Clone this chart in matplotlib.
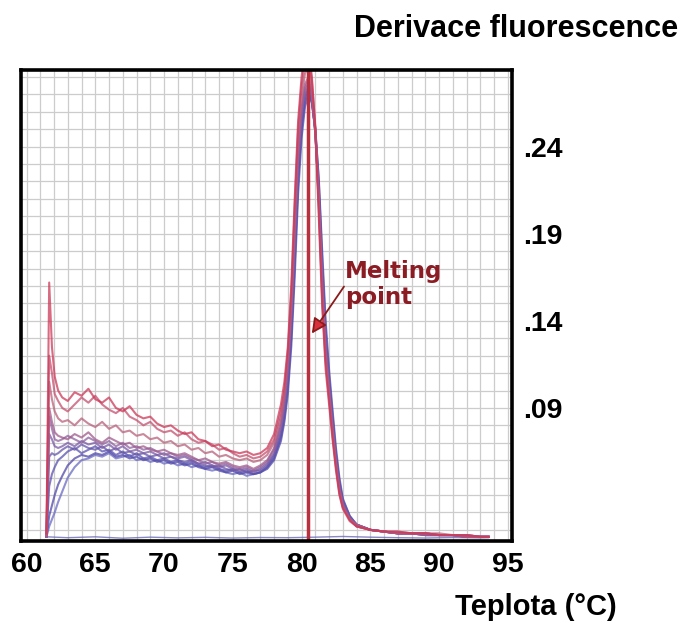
import matplotlib
matplotlib.use('Agg')
import matplotlib.pyplot as plt
from matplotlib.ticker import MultipleLocator

plt.rcParams['font.family'] = ['Liberation Sans', 'DejaVu Sans']

# teplota (°C) - spolecna osa pro vsechny krivky
teplota = [61.45, 61.65, 61.85, 62.05, 62.3, 62.6,
           63.0, 63.5, 64.0, 64.5, 65.0, 65.5, 66.0, 66.5, 67.0, 67.5, 68.0, 68.5, 69.0, 69.5, 70.0, 70.5,
           71.0, 71.5, 72.0, 72.5, 73.0, 73.5, 74.0, 74.5, 75.0, 75.5, 76.0, 76.5, 77.0, 77.5, 78.0,
           78.5, 78.75, 79.0, 79.25, 79.5, 79.75, 80.0, 80.25, 80.5, 80.75, 81.0, 81.25, 81.5, 81.75,
           82.0, 82.25, 82.5, 82.75, 83.0,
           83.5, 84.0, 85.0, 86.0, 87.0, 88.0, 89.0, 90.0, 91.0, 92.0, 93.0, 93.6]

# derivace fluorescence jednotlivych vzorku
vzorek_r0 = [0.018, 0.162, 0.125, 0.108, 0.100, 0.096,
             0.094, 0.099, 0.097, 0.101, 0.095, 0.093, 0.096, 0.090, 0.088, 0.091, 0.086, 0.084, 0.085, 0.081, 0.079, 0.080,
             0.077, 0.075, 0.076, 0.072, 0.071, 0.068, 0.069, 0.066, 0.065, 0.064, 0.065, 0.063, 0.064, 0.067, 0.075,
             0.092, 0.105, 0.125, 0.160, 0.210, 0.255, 0.280, 0.295, 0.298, 0.280, 0.250, 0.200, 0.148, 0.112,
             0.092, 0.072, 0.054, 0.040, 0.032,
             0.025, 0.022, 0.020, 0.019, 0.019, 0.018, 0.018, 0.017, 0.017, 0.017, 0.016, 0.016]
vzorek_r1 = [0.017, 0.120, 0.110, 0.098, 0.094, 0.090,
             0.088, 0.092, 0.096, 0.093, 0.097, 0.092, 0.089, 0.087, 0.090, 0.085, 0.083, 0.080, 0.082, 0.078, 0.076, 0.077,
             0.074, 0.076, 0.072, 0.070, 0.071, 0.069, 0.066, 0.067, 0.064, 0.062, 0.063, 0.061, 0.062, 0.065, 0.072,
             0.088, 0.100, 0.122, 0.155, 0.205, 0.250, 0.275, 0.288, 0.292, 0.278, 0.252, 0.205, 0.152, 0.116,
             0.095, 0.074, 0.056, 0.041, 0.033,
             0.026, 0.022, 0.020, 0.019, 0.018, 0.018, 0.018, 0.017, 0.017, 0.016, 0.016, 0.016]
vzorek_r2 = [0.017, 0.105, 0.095, 0.088, 0.084, 0.082,
             0.083, 0.080, 0.084, 0.081, 0.079, 0.082, 0.078, 0.080, 0.076, 0.077, 0.074, 0.075, 0.072, 0.073, 0.070, 0.071,
             0.068, 0.069, 0.066, 0.067, 0.064, 0.065, 0.062, 0.063, 0.061, 0.060, 0.061, 0.059, 0.060, 0.063, 0.070,
             0.085, 0.098, 0.118, 0.150, 0.198, 0.242, 0.268, 0.282, 0.286, 0.274, 0.250, 0.208, 0.155, 0.118,
             0.097, 0.076, 0.057, 0.042, 0.033,
             0.026, 0.023, 0.020, 0.019, 0.019, 0.018, 0.018, 0.018, 0.017, 0.017, 0.016, 0.016]
vzorek_m3 = [0.016, 0.090, 0.082, 0.076, 0.074, 0.073,
             0.072, 0.075, 0.073, 0.076, 0.072, 0.070, 0.073, 0.071, 0.069, 0.070, 0.067, 0.068, 0.066, 0.065, 0.066, 0.064,
             0.063, 0.064, 0.062, 0.060, 0.061, 0.059, 0.058, 0.059, 0.057, 0.056, 0.057, 0.055, 0.057, 0.060, 0.067,
             0.082, 0.095, 0.115, 0.146, 0.192, 0.236, 0.262, 0.276, 0.280, 0.270, 0.248, 0.210, 0.160, 0.122,
             0.100, 0.078, 0.058, 0.043, 0.034,
             0.026, 0.022, 0.020, 0.019, 0.018, 0.018, 0.017, 0.017, 0.017, 0.016, 0.016, 0.016]
vzorek_p4 = [0.016, 0.075, 0.072, 0.068, 0.067, 0.068,
             0.070, 0.068, 0.071, 0.069, 0.070, 0.067, 0.069, 0.066, 0.068, 0.065, 0.066, 0.064, 0.065, 0.063, 0.064, 0.062,
             0.061, 0.062, 0.060, 0.058, 0.059, 0.057, 0.056, 0.057, 0.055, 0.054, 0.055, 0.053, 0.055, 0.058, 0.064,
             0.078, 0.090, 0.110, 0.140, 0.185, 0.230, 0.258, 0.272, 0.276, 0.268, 0.248, 0.212, 0.165, 0.126,
             0.102, 0.080, 0.060, 0.045, 0.035,
             0.027, 0.023, 0.020, 0.019, 0.018, 0.018, 0.018, 0.017, 0.017, 0.017, 0.016, 0.016]
vzorek_b5 = [0.016, 0.062, 0.064, 0.063, 0.064, 0.066,
             0.068, 0.066, 0.069, 0.067, 0.066, 0.068, 0.065, 0.067, 0.064, 0.065, 0.063, 0.064, 0.062, 0.063, 0.061, 0.062,
             0.060, 0.059, 0.060, 0.058, 0.057, 0.056, 0.057, 0.055, 0.054, 0.055, 0.053, 0.054, 0.054, 0.057, 0.063,
             0.076, 0.088, 0.106, 0.136, 0.180, 0.226, 0.255, 0.270, 0.274, 0.267, 0.249, 0.216, 0.170, 0.130,
             0.105, 0.083, 0.062, 0.046, 0.036,
             0.027, 0.023, 0.020, 0.019, 0.018, 0.018, 0.017, 0.017, 0.017, 0.016, 0.016, 0.016]
vzorek_b6 = [0.016, 0.045, 0.052, 0.056, 0.060, 0.062,
             0.065, 0.067, 0.064, 0.066, 0.068, 0.065, 0.066, 0.063, 0.065, 0.062, 0.064, 0.061, 0.062, 0.060, 0.061, 0.059,
             0.060, 0.058, 0.059, 0.057, 0.056, 0.057, 0.055, 0.054, 0.055, 0.053, 0.054, 0.052, 0.053, 0.056, 0.061,
             0.073, 0.084, 0.102, 0.130, 0.172, 0.220, 0.250, 0.266, 0.272, 0.266, 0.250, 0.220, 0.175, 0.135,
             0.108, 0.086, 0.064, 0.048, 0.037,
             0.028, 0.023, 0.020, 0.019, 0.018, 0.018, 0.018, 0.017, 0.017, 0.016, 0.016, 0.016]
vzorek_b7 = [0.016, 0.028, 0.034, 0.040, 0.046, 0.051,
             0.057, 0.061, 0.063, 0.062, 0.064, 0.063, 0.065, 0.062, 0.063, 0.061, 0.062, 0.060, 0.061, 0.059, 0.060, 0.058,
             0.059, 0.057, 0.058, 0.056, 0.055, 0.056, 0.054, 0.053, 0.054, 0.052, 0.053, 0.052, 0.053, 0.055, 0.060,
             0.071, 0.082, 0.098, 0.125, 0.165, 0.213, 0.245, 0.263, 0.270, 0.265, 0.250, 0.222, 0.180, 0.140,
             0.112, 0.089, 0.067, 0.050, 0.038,
             0.028, 0.023, 0.020, 0.019, 0.018, 0.018, 0.017, 0.017, 0.017, 0.016, 0.016, 0.016]
vzorek_b8 = [0.016, 0.022, 0.026, 0.030, 0.036, 0.042,
             0.050, 0.056, 0.060, 0.061, 0.063, 0.062, 0.064, 0.061, 0.062, 0.063, 0.060, 0.061, 0.059, 0.060, 0.058, 0.059,
             0.057, 0.058, 0.056, 0.057, 0.055, 0.054, 0.055, 0.053, 0.052, 0.053, 0.051, 0.052, 0.053, 0.056, 0.062,
             0.074, 0.086, 0.104, 0.133, 0.176, 0.222, 0.252, 0.268, 0.273, 0.266, 0.248, 0.214, 0.168, 0.128,
             0.104, 0.082, 0.062, 0.046, 0.036,
             0.027, 0.023, 0.020, 0.019, 0.018, 0.018, 0.017, 0.017, 0.017, 0.017, 0.016, 0.016]
vzorek_b9 = [0.016, 0.085, 0.078, 0.072, 0.071, 0.072,
             0.074, 0.072, 0.070, 0.073, 0.071, 0.069, 0.071, 0.068, 0.070, 0.067, 0.068, 0.066, 0.067, 0.065, 0.063, 0.064,
             0.062, 0.063, 0.061, 0.060, 0.058, 0.059, 0.057, 0.058, 0.056, 0.055, 0.056, 0.054, 0.056, 0.059, 0.066,
             0.080, 0.093, 0.112, 0.143, 0.188, 0.233, 0.260, 0.274, 0.278, 0.269, 0.248, 0.211, 0.162, 0.124,
             0.101, 0.079, 0.059, 0.044, 0.035,
             0.026, 0.022, 0.020, 0.019, 0.018, 0.018, 0.018, 0.017, 0.017, 0.016, 0.016, 0.016]

# negativni kontrola (skoro rovna cara u dna)
ntc_teplota = [61.45, 63, 65, 67, 69, 71, 73, 75, 77, 79, 81, 83, 85, 87, 89, 91, 93, 93.6]
ntc_hodnoty = [0.0160, 0.0155, 0.0160, 0.0152, 0.0158, 0.0154, 0.0157, 0.0153, 0.0156,
               0.0155, 0.0158, 0.0162, 0.0158, 0.0155, 0.0153, 0.0156, 0.0154, 0.0155]

bod_tani = 80.45
y_ticks = [0.09, 0.14, 0.19, 0.24]
y_labels = ['.09', '.14', '.19', '.24']
x_ticks = [60, 65, 70, 75, 80, 85, 90, 95]

vzorky = [vzorek_b8, vzorek_b7, vzorek_b6, vzorek_b5, vzorek_p4, vzorek_b9,
          vzorek_m3, vzorek_r2, vzorek_r1, vzorek_r0]
barvy = ['#6a6ac4', '#5048a8', '#5a52b0', '#6656aa', '#7a5aa6', '#8e62a0',
         '#a05a8c', '#b8607a', '#c45070', '#cc3858']

fig = plt.figure(figsize=(6.83, 6.23), dpi=100)
ax = fig.add_axes([21 / 683, 1 - 541 / 623, 491 / 683, 471 / 623])

# mrizka
ax.xaxis.set_minor_locator(MultipleLocator(1))
ax.yaxis.set_minor_locator(MultipleLocator(0.01))
ax.grid(which='both', color='#cccccc', lw=0.9)
ax.set_axisbelow(True)

ax.plot(ntc_teplota, ntc_hodnoty, color='#6a6ab8', lw=1.0, alpha=0.8)
for y, c in zip(vzorky, barvy):
    ax.plot(teplota, y, color=c, lw=1.5, alpha=0.75)

ax.axvline(bod_tani, color='#b8303e', lw=2.5)

ax.annotate('', xy=(80.63, 0.1314), xytext=(83.2, 0.161),
            arrowprops=dict(arrowstyle='-|>,head_length=0.9,head_width=0.45',
                            fc='#d8303c', ec='#8b1a1a', lw=1.3))
ax.text(83.15, 0.175, 'Melting\npoint', va='top', ha='left', family='DejaVu Sans',
        fontweight='bold', fontsize=16.5, color='#8c1c24', linespacing=1.15)

ax.set_xlim(59.6, 95.3)
ax.set_ylim(0.0136, 0.284)
ax.set_xticks(x_ticks)
ax.set_xticklabels([str(t) for t in x_ticks], fontweight='bold')
ax.set_yticks(y_ticks)
ax.set_yticklabels(y_labels, fontweight='bold')
ax.tick_params(axis='both', which='both', length=0, labelsize=20.5)
ax.tick_params(axis='y', labelleft=False, labelright=True, pad=8)
ax.tick_params(axis='x', pad=8)
for s in ax.spines.values():
    s.set_linewidth(2.6)
    s.set_color('black')

fig.text(678 / 683, 1 - 37 / 623, 'Derivace fluorescence', ha='right', va='baseline',
         fontsize=22, fontweight='bold')
fig.text(617 / 683, 1 - 615 / 623, 'Teplota (°C)', ha='right', va='baseline',
         fontsize=21, fontweight='bold')

plt.savefig('out.png', dpi=100)
